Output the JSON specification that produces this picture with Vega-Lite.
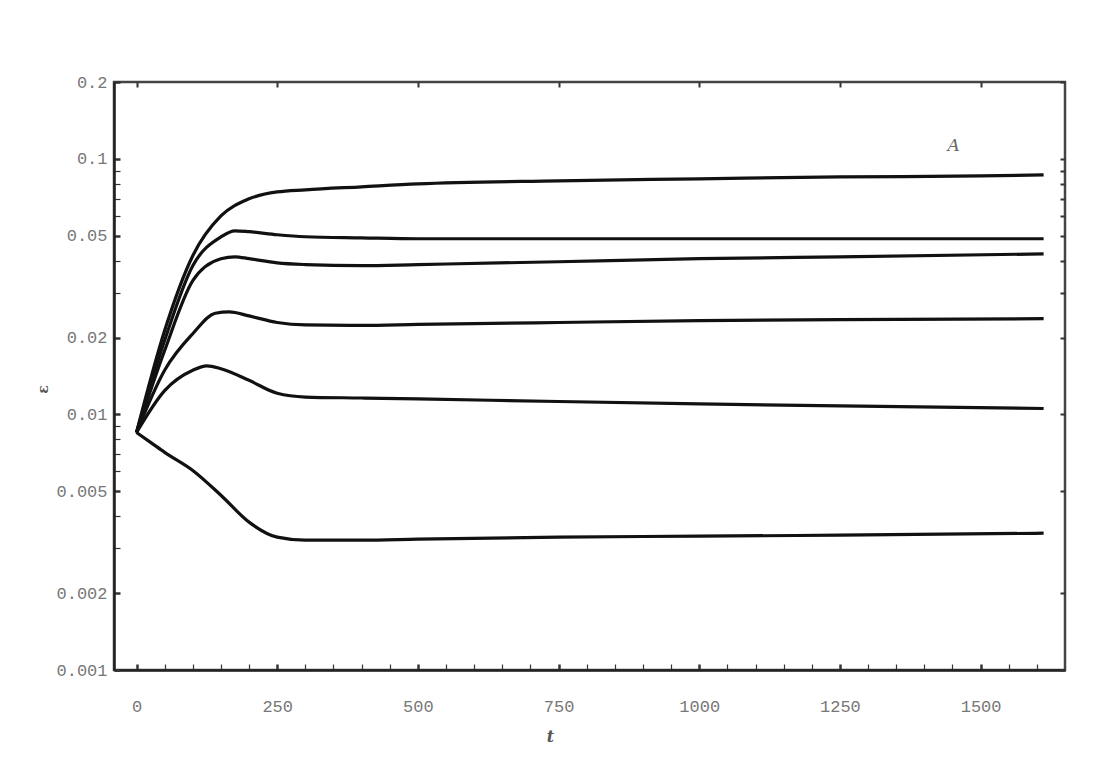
{
  "$schema": "https://vega.github.io/schema/vega-lite/v6.json",
  "autosize": {"type": "none"},
  "width": 951,
  "height": 588,
  "padding": {"left": 114, "top": 82, "right": 40, "bottom": 102},
  "background": "white",
  "config": {
    "view": {"stroke": "#444", "strokeWidth": 2.5},
    "axis": {"labelFont": "Liberation Mono", "labelFontSize": 17, "labelColor": "#777", "titleFont": "DejaVu Serif", "titleColor": "#555", "domainColor": "#222", "domainWidth": 2.5, "tickColor": "#333", "grid": false}
  },
  "datasets": {
    "curves": [
      {"series": "A", "t": 0, "v": 0.0085}, {"series": "A", "t": 50, "v": 0.0213}, {"series": "A", "t": 100, "v": 0.0418}, {"series": "A", "t": 150, "v": 0.0598}, {"series": "A", "t": 200, "v": 0.0698}, {"series": "A", "t": 250, "v": 0.0743}, {"series": "A", "t": 300, "v": 0.0757}, {"series": "A", "t": 400, "v": 0.0778}, {"series": "A", "t": 500, "v": 0.0799}, {"series": "A", "t": 750, "v": 0.0821}, {"series": "A", "t": 1000, "v": 0.0836}, {"series": "A", "t": 1250, "v": 0.085}, {"series": "A", "t": 1500, "v": 0.0858}, {"series": "A", "t": 1612, "v": 0.0866},
      {"series": "B", "t": 0, "v": 0.0085}, {"series": "B", "t": 50, "v": 0.0195}, {"series": "B", "t": 100, "v": 0.0382}, {"series": "B", "t": 150, "v": 0.0495}, {"series": "B", "t": 175, "v": 0.0523}, {"series": "B", "t": 200, "v": 0.0519}, {"series": "B", "t": 250, "v": 0.0505}, {"series": "B", "t": 300, "v": 0.0496}, {"series": "B", "t": 400, "v": 0.0491}, {"series": "B", "t": 500, "v": 0.0487}, {"series": "B", "t": 1000, "v": 0.0487}, {"series": "B", "t": 1612, "v": 0.0487},
      {"series": "C", "t": 0, "v": 0.0085}, {"series": "C", "t": 50, "v": 0.0178}, {"series": "C", "t": 100, "v": 0.0334}, {"series": "C", "t": 150, "v": 0.0407}, {"series": "C", "t": 175, "v": 0.0414}, {"series": "C", "t": 200, "v": 0.0407}, {"series": "C", "t": 250, "v": 0.0392}, {"series": "C", "t": 300, "v": 0.0386}, {"series": "C", "t": 400, "v": 0.0382}, {"series": "C", "t": 500, "v": 0.0386}, {"series": "C", "t": 750, "v": 0.0396}, {"series": "C", "t": 1000, "v": 0.0407}, {"series": "C", "t": 1250, "v": 0.0414}, {"series": "C", "t": 1612, "v": 0.0425},
      {"series": "D", "t": 0, "v": 0.0085}, {"series": "D", "t": 50, "v": 0.0149}, {"series": "D", "t": 100, "v": 0.0207}, {"series": "D", "t": 140, "v": 0.0249}, {"series": "D", "t": 165, "v": 0.0252}, {"series": "D", "t": 200, "v": 0.0243}, {"series": "D", "t": 250, "v": 0.0229}, {"series": "D", "t": 300, "v": 0.0224}, {"series": "D", "t": 400, "v": 0.0223}, {"series": "D", "t": 500, "v": 0.0225}, {"series": "D", "t": 750, "v": 0.0229}, {"series": "D", "t": 1000, "v": 0.0233}, {"series": "D", "t": 1250, "v": 0.0235}, {"series": "D", "t": 1612, "v": 0.0237},
      {"series": "E", "t": 0, "v": 0.0085}, {"series": "E", "t": 50, "v": 0.0124}, {"series": "E", "t": 100, "v": 0.0149}, {"series": "E", "t": 125, "v": 0.0155}, {"series": "E", "t": 150, "v": 0.0151}, {"series": "E", "t": 200, "v": 0.0136}, {"series": "E", "t": 250, "v": 0.0121}, {"series": "E", "t": 300, "v": 0.0117}, {"series": "E", "t": 400, "v": 0.0116}, {"series": "E", "t": 500, "v": 0.0115}, {"series": "E", "t": 750, "v": 0.01124}, {"series": "E", "t": 1000, "v": 0.011}, {"series": "E", "t": 1250, "v": 0.0108}, {"series": "E", "t": 1612, "v": 0.01055},
      {"series": "F", "t": 0, "v": 0.0085}, {"series": "F", "t": 25, "v": 0.00778}, {"series": "F", "t": 50, "v": 0.00711}, {"series": "F", "t": 100, "v": 0.00604}, {"series": "F", "t": 150, "v": 0.00483}, {"series": "F", "t": 200, "v": 0.00379}, {"series": "F", "t": 250, "v": 0.00331}, {"series": "F", "t": 300, "v": 0.00322}, {"series": "F", "t": 400, "v": 0.00322}, {"series": "F", "t": 500, "v": 0.00325}, {"series": "F", "t": 750, "v": 0.00331}, {"series": "F", "t": 1000, "v": 0.00334}, {"series": "F", "t": 1250, "v": 0.00337}, {"series": "F", "t": 1612, "v": 0.00343}
    ],
    "labels": [{"t": 1452, "v": 0.112, "text": "A"}]
  },
  "layer": [
    {
      "data": {"name": "curves"},
      "mark": {"type": "line", "color": "#111", "strokeWidth": 3.2, "interpolate": "monotone"},
      "encoding": {
        "x": {"field": "t", "type": "quantitative", "scale": {"domain": [-40, 1650], "nice": false, "zero": false},
          "axis": {"title": "t", "titleFontStyle": "italic", "titleFontSize": 16, "titleX": 436, "titlePadding": 14,
            "values": [0, 50, 100, 150, 200, 250, 300, 350, 400, 450, 500, 550, 600, 650, 700, 750, 800, 850, 900, 950, 1000, 1050, 1100, 1150, 1200, 1250, 1300, 1350, 1400, 1450, 1500, 1550, 1600],
            "labelExpr": "datum.value % 250 == 0 ? format(datum.value, 'd') : ''",
            "tickSize": -6,
            "tickWidth": {"condition": {"test": "datum.value % 250 == 0", "value": 2.5}, "value": 1.2},
            "labelPadding": 34}},
        "y": {"field": "v", "type": "quantitative", "scale": {"type": "log", "domain": [0.001, 0.2], "nice": false},
          "axis": {"title": "ε", "titleFontSize": 14, "titleY": 307, "titlePadding": 5,
            "values": [0.001, 0.002, 0.003, 0.004, 0.005, 0.006, 0.007, 0.008, 0.009, 0.01, 0.02, 0.03, 0.04, 0.05, 0.06, 0.07, 0.08, 0.09, 0.1, 0.2],
            "labelExpr": "indexof([0.001,0.002,0.005,0.01,0.02,0.05,0.1,0.2], datum.value) >= 0 ? format(datum.value, '~g') : ''",
            "tickSize": -6,
            "tickWidth": {"condition": {"test": "indexof([0.001,0.002,0.005,0.01,0.02,0.05,0.1,0.2], datum.value) >= 0", "value": 2.5}, "value": 1.2},
            "labelPadding": 13}},
        "detail": {"field": "series", "type": "nominal"}
      }
    },
    {
      "data": {"name": "labels"},
      "mark": {"type": "text", "font": "DejaVu Serif", "fontStyle": "italic", "fontSize": 17, "color": "#666"},
      "encoding": {
        "x": {"field": "t", "type": "quantitative",
          "axis": {"orient": "top", "title": null, "labels": false, "domain": false,
            "values": [0, 250, 500, 750, 1000, 1250, 1500],
            "tickSize": -5, "tickWidth": 2}},
        "y": {"field": "v", "type": "quantitative",
          "axis": {"orient": "right", "title": null, "labels": false, "domain": false,
            "values": [0.001, 0.002, 0.005, 0.01, 0.02, 0.03, 0.04, 0.05, 0.06, 0.07, 0.08, 0.09, 0.1, 0.2],
            "tickSize": -5, "tickWidth": 2}},
        "text": {"field": "text"}
      }
    }
  ],
  "resolve": {"axis": {"x": "independent", "y": "independent"}}
}
